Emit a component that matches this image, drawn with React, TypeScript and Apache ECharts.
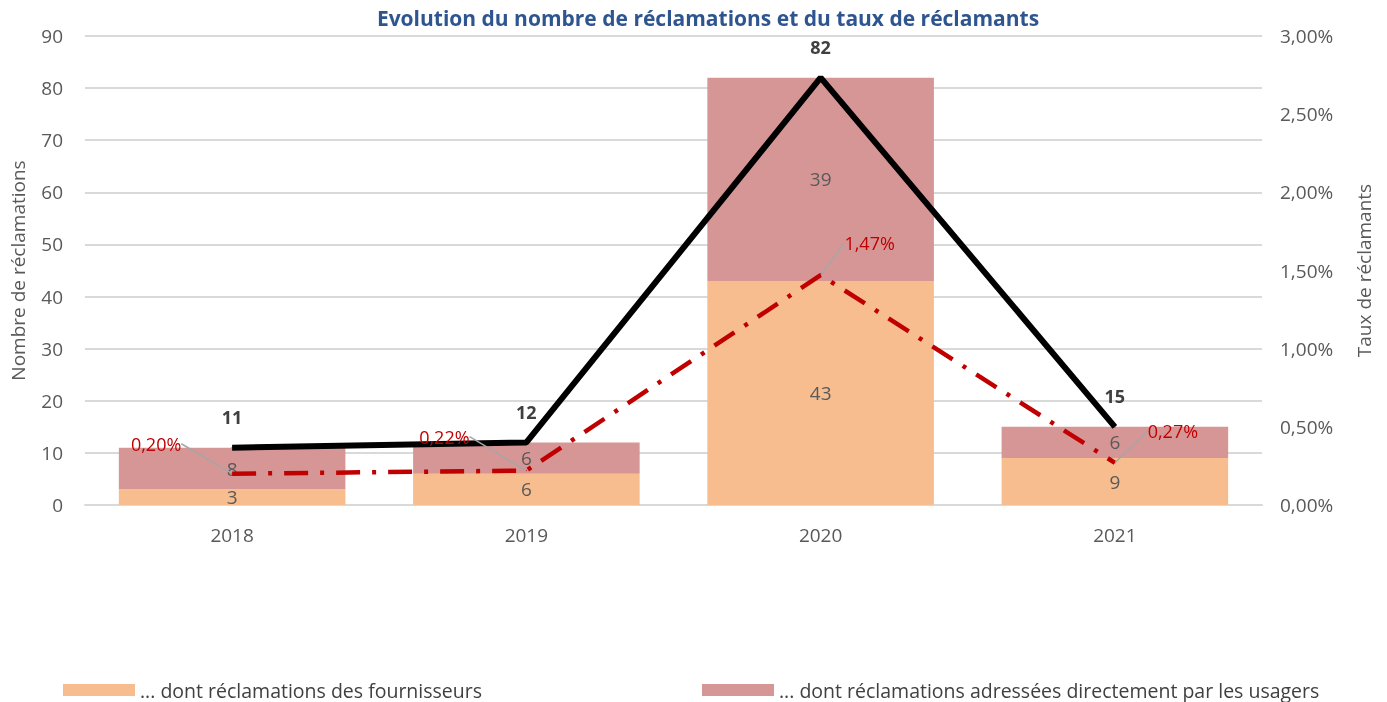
import React, { useEffect, useRef } from "react";
import * as echarts from "echarts";

const categories = ["2018", "2019", "2020", "2021"];
const fournisseurs = [3, 6, 43, 9];
const usagers = [8, 6, 39, 6];
const totals = [11, 12, 82, 15];
const tauxReclamants = [0.2, 0.22, 1.47, 0.27];
const leftTicks = [0, 10, 20, 30, 40, 50, 60, 70, 80, 90];
const rightTicks = [0, 0.5, 1, 1.5, 2, 2.5, 3];
const legendNames = [
  "... dont réclamations des fournisseurs",
  "... dont réclamations adressées directement par les usagers",
];

const FONT = "'Open Sans', 'Noto Sans', sans-serif";
const fmtPct = (v: number) => v.toFixed(2).replace(".", ",") + "%";

const rateLabelOffsets = [
  [-76, -30],
  [-82, -34],
  [49, -32],
  [58, -32],
];

export default function App() {
  const ref = useRef<HTMLDivElement>(null);
  useEffect(() => {
    const chart = echarts.init(ref.current!, null, { renderer: "svg" });
    chart.setOption({
      animation: false,
      textStyle: { fontFamily: FONT },
      title: {
        text: "Evolution du nombre de réclamations et du taux de réclamants",
        left: 708,
        textAlign: "center",
        top: 7,
        padding: 0,
        textStyle: { fontSize: 21, fontWeight: "bold", color: "#2F5590", fontFamily: FONT },
      },
      legend: [
        {
          data: [legendNames[0]],
          left: 63,
          top: 680,
          padding: 0,
          itemWidth: 72,
          itemHeight: 12,
          itemGap: 10,
          icon: "rect",
          textStyle: { fontSize: 19.5, color: "#404040", fontFamily: FONT },
        },
        {
          data: [legendNames[1]],
          left: 702,
          top: 680,
          padding: 0,
          itemWidth: 72,
          itemHeight: 12,
          icon: "rect",
          textStyle: { fontSize: 19.5, color: "#404040", fontFamily: FONT },
        },
      ],
      grid: { left: 85, right: 125, top: 36, bottom: 197, containLabel: false },
      xAxis: {
        type: "category",
        data: categories,
        axisTick: { show: false },
        axisLine: { lineStyle: { color: "#d9d9d9", width: 2 } },
        axisLabel: { fontSize: 19, color: "#595959", margin: 20 },
      },
      yAxis: [
        {
          type: "value",
          min: leftTicks[0],
          max: leftTicks[leftTicks.length - 1],
          interval: 10,
          name: "Nombre de réclamations",
          nameLocation: "middle",
          nameGap: 58,
          nameTextStyle: { fontSize: 19, color: "#595959" },
          axisLabel: { fontSize: 19, color: "#595959", margin: 22 },
          splitLine: { lineStyle: { color: "#d9d9d9", width: 2 } },
          axisLine: { show: false },
          axisTick: { show: false },
        },
        {
          type: "value",
          min: rightTicks[0],
          max: rightTicks[rightTicks.length - 1],
          interval: 0.5,
          name: "Taux de réclamants",
          nameLocation: "middle",
          nameGap: 92,
          nameRotate: 90,
          nameTextStyle: { fontSize: 19, color: "#595959" },
          axisLabel: { fontSize: 19, color: "#595959", margin: 18, formatter: (v: number) => fmtPct(v) },
          splitLine: { show: false },
          axisLine: { show: false },
          axisTick: { show: false },
        },
      ],
      series: [
        {
          name: legendNames[0],
          type: "bar",
          stack: "total",
          data: fournisseurs,
          barCategoryGap: "23%",
          itemStyle: { color: "#F8BD8F" },
          label: { show: true, position: "inside", fontSize: 19, color: "#595959" },
        },
        {
          name: legendNames[1],
          type: "bar",
          stack: "total",
          data: usagers,
          itemStyle: { color: "#D79696" },
          label: { show: true, position: "inside", fontSize: 19, color: "#595959" },
        },
        {
          name: "Total",
          type: "line",
          data: totals,
          symbol: "circle",
          symbolSize: 1,
          itemStyle: { color: "#000000" },
          lineStyle: { color: "#000000", width: 6 },
          label: { show: true, position: "top", distance: 21, fontSize: 18, fontWeight: "bold", color: "#404040" },
          z: 5,
        },
        {
          name: "Taux",
          type: "line",
          yAxisIndex: 1,
          data: tauxReclamants,
          symbol: "circle",
          symbolSize: 1,
          itemStyle: { color: "#C00000" },
          lineStyle: { color: "#C00000", width: 4.5, type: [24, 12, 4, 12] },
          label: {
            show: true,
            position: "inside",
            fontSize: 18,
            color: "#C00000",
            formatter: (p: any) => fmtPct(p.value),
          },
          labelLine: { show: true, lineStyle: { color: "#A6A6A6", width: 1.5 } },
          labelLayout: (params: any) => {
            const o = rateLabelOffsets[params.dataIndex];
            return { dx: o[0], dy: o[1] };
          },
          z: 6,
        },
      ],
    });
    return () => chart.dispose();
  }, []);
  return <div ref={ref} style={{ position: "fixed", left: 0, top: 0, width: 1387, height: 702 }} />;
}
